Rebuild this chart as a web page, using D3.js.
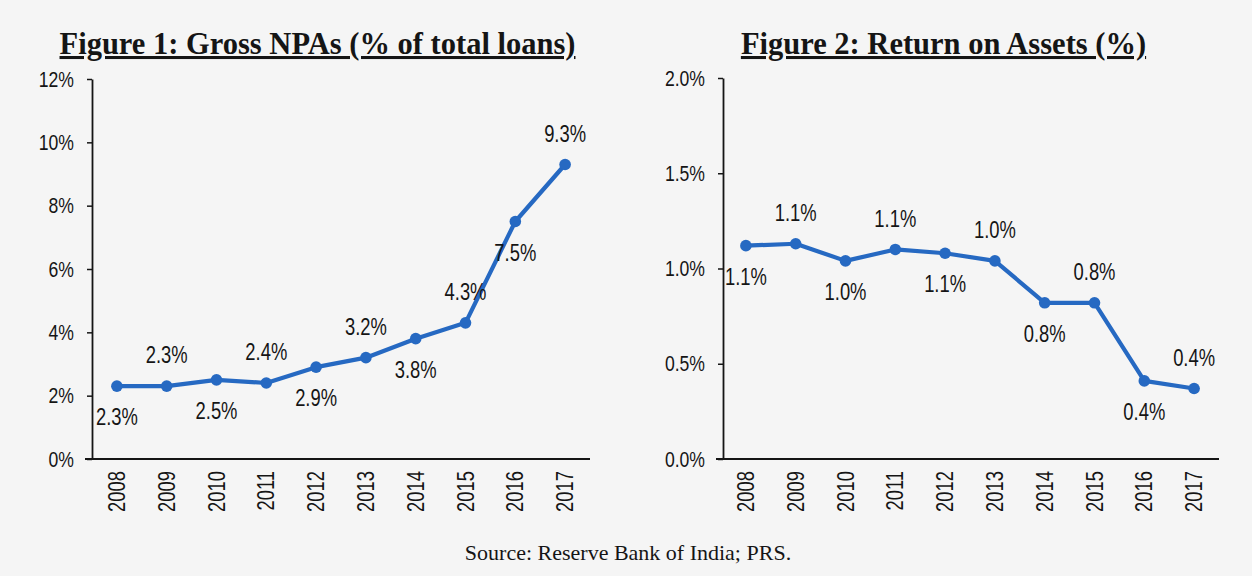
<!DOCTYPE html>
<html><head><meta charset="utf-8">
<script src="https://cdn.jsdelivr.net/npm/d3@7"></script>
<style>
html,body{margin:0;padding:0;background:#f5f5f5;}
svg{display:block;}
</style>
</head><body>
<svg id="chart" width="1252" height="576"></svg>
<script>
// ---- data ----
const years = ["2008","2009","2010","2011","2012","2013","2014","2015","2016","2017"];
const npaValues = [2.3, 2.3, 2.5, 2.4, 2.9, 3.2, 3.8, 4.3, 7.5, 9.3];
const npaTicks = [0, 2, 4, 6, 8, 10, 12];
const roaValues = [1.12, 1.13, 1.04, 1.10, 1.08, 1.04, 0.82, 0.82, 0.41, 0.37];
const roaTicks = [0, 0.5, 1.0, 1.5, 2.0];
const labelSides = ["below","above","below","above","below","above","below","above","below","above"];
const titles = ["Figure 1: Gross NPAs (% of total loans)", "Figure 2: Return on Assets (%)"];
const sourceText = "Source: Reserve Bank of India; PRS.";

// ---- style ----
const LINE = "#2669c2";
const INK = "#151515";
const SANS = "'Liberation Sans', Arial, sans-serif";
const SERIF = "'Liberation Serif', 'Times New Roman', serif";
const NARROW = 0.8;

const svg = d3.select("#chart");

const panels = [
  {values: npaValues, ticks: npaTicks, domain: [0, 12], fmt: d => d3.format("d")(d) + "%",
   lblFmt: d => d3.format(".1f")(d) + "%", axisX: 92, xr: [92, 590], yr: [459, 79], titleX: 317.5, title: titles[0]},
  {values: roaValues, ticks: roaTicks, domain: [0, 2], fmt: d => d3.format(".1f")(d) + "%",
   lblFmt: d => d3.format(".1f")(d) + "%", axisX: 723, xr: [721, 1219], yr: [459, 78], titleX: 943.5, title: titles[1]}
];

panels.forEach(p => {
  const x = d3.scalePoint().domain(years).range(p.xr).padding(0.5);
  const y = d3.scaleLinear().domain(p.domain).range(p.yr);
  const g = svg.append("g");

  // title
  g.append("text")
    .attr("x", p.titleX).attr("y", 54)
    .attr("text-anchor", "middle")
    .style("font-family", SERIF).style("font-weight", "bold").style("font-size", "30.5px")
    .style("text-decoration", "underline")
    .attr("fill", INK)
    .text(p.title);

  // y axis
  const ya = g.append("g").attr("transform", `translate(${p.axisX},0)`)
    .call(d3.axisLeft(y).tickValues(p.ticks).tickSize(5).tickSizeOuter(0).tickFormat(""));
  ya.select(".domain").attr("stroke", INK).attr("stroke-width", 1.8);
  ya.selectAll(".tick line").attr("stroke", INK).attr("stroke-width", 1.5);

  g.selectAll(".ytl").data(p.ticks).enter().append("text")
    .attr("transform", d => `translate(${p.axisX - 18},${y(d)}) scale(${NARROW},1)`)
    .attr("dy", "0.35em").attr("text-anchor", "end")
    .style("font-family", SANS).style("font-size", "22px").attr("fill", INK)
    .text(p.fmt);

  // x axis line
  g.append("line")
    .attr("x1", p.axisX - 7).attr("x2", p.xr[1])
    .attr("y1", y(0)).attr("y2", y(0))
    .attr("stroke", INK).attr("stroke-width", 2);

  g.selectAll(".xtl").data(years).enter().append("text")
    .attr("transform", d => `translate(${x(d)},${y(0) + 12}) rotate(-90) scale(${NARROW},1)`)
    .attr("dy", "0.35em").attr("text-anchor", "end")
    .style("font-family", SANS).style("font-size", "23px").attr("fill", INK)
    .text(d => d);

  // line
  const line = d3.line().x((d, i) => x(years[i])).y(d => y(d));
  g.append("path").datum(p.values)
    .attr("d", line).attr("fill", "none")
    .attr("stroke", LINE).attr("stroke-width", 4.2).attr("stroke-linejoin", "round");

  g.selectAll(".dot").data(p.values).enter().append("circle")
    .attr("cx", (d, i) => x(years[i])).attr("cy", d => y(d)).attr("r", 5.8)
    .attr("fill", LINE);

  // data labels
  g.selectAll(".dl").data(p.values).enter().append("text")
    .attr("transform", (d, i) => `translate(${x(years[i])},${y(d) + (labelSides[i] === "below" ? 31 : -31)}) scale(${NARROW},1)`)
    .attr("dy", "0.35em").attr("text-anchor", "middle")
    .style("font-family", SANS).style("font-size", "23px").attr("fill", INK)
    .text(p.lblFmt);
});

svg.append("text")
  .attr("x", 628).attr("y", 560).attr("text-anchor", "middle")
  .style("font-family", SERIF).style("font-size", "22px").attr("fill", INK)
  .text(sourceText);
</script>
</body></html>
